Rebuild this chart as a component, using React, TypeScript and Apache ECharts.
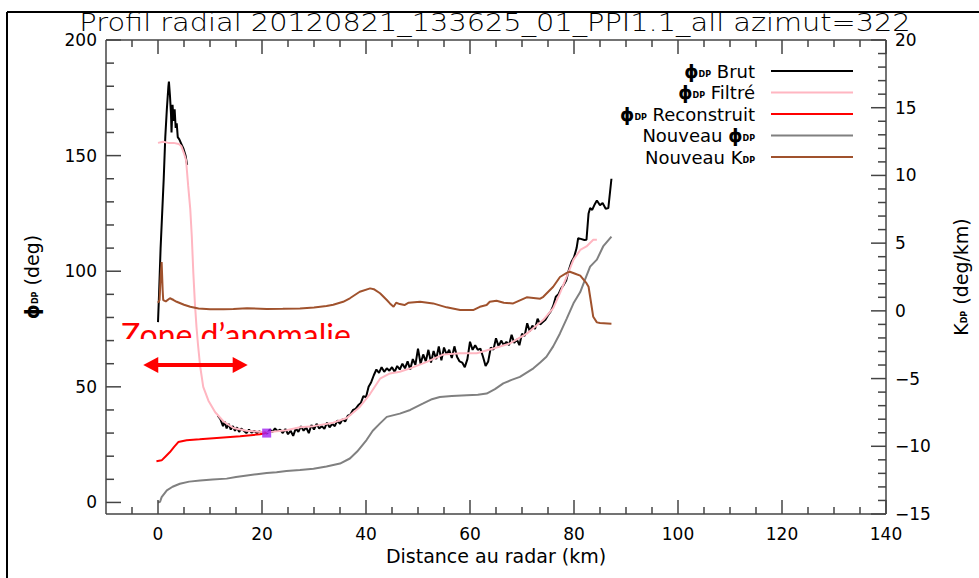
import { useEffect, useRef } from 'react';
import * as echarts from 'echarts';

// ---------- texts ----------
const TITLE = 'Profil radial 20120821_133625_01_PPI1.1_all azimut=322';
const X_NAME = 'Distance au radar (km)';
const LEFT_NAME = '{p|ϕ}{s|DP} (deg)';
const RIGHT_NAME = '{k|K}{s|DP} (deg/km)';
const ANNOTATION = 'Zone d’anomalie';

// ---------- axis ranges / ticks ----------
const X_RANGE = [-10, 140];
const PHI_RANGE = [-5, 200];
const KDP_RANGE = [-15, 20];
const X_LABEL_STEP = 20;
const PHI_LABEL_STEP = 50;
const KDP_LABEL_STEP = 5;
const X_MAJOR = [0, 20, 40, 60, 80, 100, 120, 140];
const X_MINOR = [-5, 5, 10, 15, 25, 30, 35, 45, 50, 55, 65, 70, 75, 85, 90, 95, 105, 110, 115, 125, 130, 135];
const PHI_MAJOR = [0, 50, 100, 150, 200];
const PHI_MINOR = [10, 20, 30, 40, 60, 70, 80, 90, 110, 120, 130, 140, 160, 170, 180, 190];
const KDP_MAJOR = [-15, -10, -5, 0, 5, 10, 15, 20];
const KDP_MINOR = [-14, -13, -12, -11, -9, -8, -7, -6, -4, -3, -2, -1, 1, 2, 3, 4, 6, 7, 8, 9, 11, 12, 13, 14, 16, 17, 18, 19];

// ---------- legend ----------
const SERIES_NAMES = ['ϕDP Brut', 'ϕDP Filtré', 'ϕDP Reconstruit', 'Nouveau ϕDP', 'Nouveau KDP'];
const LEGEND_LABELS = [
  '{p|ϕ}{s|DP}{t| Brut}{g| }',
  '{p|ϕ}{s|DP}{t| Filtré}{g| }',
  '{p|ϕ}{s|DP}{t| Reconstruit}{g| }',
  '{t|Nouveau }{p|ϕ}{s|DP}{g| }',
  '{t|Nouveau K}{s|DP}{g| }',
];

// ---------- data [km, value] ----------
const brutData: (number | string)[][] = [
  [0, 78], [0.2, 90], [0.5, 110], [0.8, 125], [1.1, 140], [1.4, 158], [1.7, 170], [2.0, 180], [2.1, 182],
  [2.3, 176], [2.5, 168], [2.6, 160], [2.8, 172], [3.0, 165], [3.2, 170], [3.4, 162], [3.6, 164], [3.8, 158],
  [4.1, 157], [4.5, 155], [4.9, 153], [5.3, 150], [5.6, 146],
  [8, '-'],
  [11.5, 37.5], [12, 36], [12.5, 33], [12.8, 35], [13.2, 32], [13.6, 34], [14, 31.5], [14.4, 33], [14.8, 31],
  [15.2, 32.5], [15.6, 30.5], [16, 32], [16.5, 31], [17, 30], [17.5, 31.5], [18, 30.2], [18.5, 31], [19, 30],
  [19.5, 30.8], [20, 30], [20.5, 30.4], [21, 29.8], [21.5, 31.5], [22, 30.5], [22.5, 32], [23, 30.8], [23.5, 31.5],
  [24, 30], [24.5, 31.8], [25, 29.5], [25.5, 31], [26, 28.8], [26.5, 32], [27, 30.5], [27.5, 33], [28, 31],
  [28.5, 32.5], [29, 30], [29.5, 33.5], [30, 31.5], [30.5, 34], [31, 32], [31.5, 33], [32, 31.8], [32.5, 34.5],
  [33, 32.5], [33.5, 34], [34, 33], [34.5, 35.5], [35, 34], [35.5, 36], [36, 35], [36.5, 37.5], [37, 38],
  [37.5, 40], [38, 40.5], [38.5, 42], [39, 43], [39.5, 46], [40, 45.5], [40.5, 50], [41, 52], [41.5, 55],
  [42, 57.5], [42.5, 56], [43, 58.5], [43.5, 56.5], [44, 58], [44.5, 57], [45, 58.5], [45.5, 56.5], [46, 59],
  [46.5, 57.5], [47, 60], [47.5, 58], [48, 61], [48.5, 57.5], [49, 62], [49.5, 59.5], [50, 66.5], [50.5, 60],
  [51, 64], [51.5, 61], [52, 66], [52.5, 60.5], [53, 65.5], [53.5, 62], [54, 67.5], [54.5, 61.5], [55, 67],
  [55.5, 64], [56, 66], [56.5, 62.5], [57, 67.5], [57.5, 63], [58, 61], [58.5, 60.5], [59, 58.5], [59.5, 62],
  [60, 69.5], [60.5, 66], [61, 68], [61.5, 66], [62, 66.5], [62.5, 63], [63, 59], [63.5, 61], [64, 67],
  [64.5, 66], [65, 71], [65.5, 67.5], [66, 70], [66.5, 68], [67, 69.5], [67.5, 68], [68, 72.5], [68.5, 69],
  [69, 70.5], [69.5, 68], [70, 73], [70.5, 72], [71, 77.5], [71.5, 74], [72, 76.5], [72.5, 75], [73, 79.5],
  [73.5, 77], [74, 78], [74.5, 79], [75, 81], [75.5, 82.5], [76, 85], [76.5, 89], [77, 90], [77.5, 92.5],
  [78, 94], [78.5, 96], [79, 100.5], [79.5, 104], [80, 106], [80.5, 110], [80.8, 114.3], [81.3, 114],
  [82, 113.5], [82.4, 113.6], [82.8, 125], [83.1, 127.3], [83.5, 126.5], [84, 129], [84.4, 130.6], [85, 128.5],
  [85.5, 129.5], [86.1, 127], [86.6, 127.3], [87.2, 140],
];

const filtreData: number[][] = [
  [0, 155.5], [1, 156], [2, 155.5], [3, 155.5], [4, 155], [4.5, 154], [5, 151], [5.4, 148], [5.8, 137],
  [6.2, 127], [6.5, 115], [6.8, 99], [7.1, 86], [7.4, 76], [7.7, 68], [8.1, 59], [8.7, 50], [9.7, 44],
  [11, 39], [12.6, 35], [14.5, 32.2], [17, 31], [20.9, 30.3], [24.7, 31.2], [27.3, 32.5], [29.9, 33],
  [33.7, 34.5], [36.3, 36.5], [38.8, 41.3], [40.8, 47], [42.7, 53.5], [44.6, 55.8], [46.5, 56.5], [48.5, 58],
  [51.7, 60.8], [54.9, 64], [58.1, 64.5], [61.3, 64.5], [64.5, 66.6], [67.7, 68.8], [70.9, 73], [74.1, 79],
  [76, 84], [77.3, 90.5], [78.6, 97.7], [79.9, 105], [81.2, 109.2], [82.4, 110.7], [83.7, 113.6], [84.4, 113.6],
];

const reconstruitData: number[][] = [
  [-0.3, 17.8], [0.7, 18.2], [1.5, 20], [2.3, 21.8], [3.1, 24], [3.9, 26.1], [5.5, 26.9], [8, 27.3],
  [11.3, 27.9], [15.8, 28.6], [19.6, 29.5], [20.9, 30],
];

const nouveauPhiData: number[][] = [
  [0, 0], [0.4, 0.3], [0.7, 2.3], [1.7, 5.2], [2.8, 6.8], [4.2, 8.1], [6, 9], [8.1, 9.5], [10.5, 9.9],
  [13.2, 10.3], [15, 11], [17.1, 11.7], [19, 12.2], [20.9, 12.7], [22.8, 13.1], [24.7, 13.6], [27.3, 14],
  [29.9, 14.6], [32.4, 15.5], [35, 16.8], [36.9, 19], [38.3, 22], [40.1, 27], [41.3, 31], [42.7, 34.2],
  [44, 37], [46.5, 38.4], [48.5, 40], [51, 42.8], [52.5, 44.5], [54.2, 45.6], [56.5, 46], [59.4, 46.4],
  [61.5, 46.6], [63.2, 47.1], [64.8, 49], [66.4, 51.5], [68, 53], [69.6, 54.3], [72.2, 58], [73.5, 60.5],
  [74.7, 63], [76, 67.5], [77.3, 73.1], [78.6, 79.5], [79.9, 86.1], [81.2, 91], [82.4, 98], [83.1, 102],
  [84.4, 105], [85.6, 110.7], [87.2, 115],
];

const kdpData: number[][] = [
  [0, 0.6], [0.3, 0.8], [0.5, 2.5], [0.7, 3.6], [0.9, 1.5], [1, 0.8], [1.5, 0.7], [2.3, 0.93], [3, 0.8],
  [3.6, 0.67], [5, 0.45], [6.2, 0.3], [7.8, 0.18], [10, 0.12], [12.6, 0.11], [14.5, 0.13], [17.1, 0.2],
  [20.9, 0.13], [24, 0.15], [27.3, 0.18], [30, 0.25], [32.4, 0.36], [33.7, 0.45], [35.6, 0.67], [36.9, 0.93],
  [38.8, 1.41], [40.8, 1.66], [41.5, 1.6], [42.7, 1.3], [44, 0.8], [44.6, 0.55], [45.3, 0.3], [45.8, 0.6],
  [46.5, 0.5], [47.4, 0.43], [48.2, 0.6], [50.4, 0.67], [52.9, 0.55], [55.5, 0.26], [58.1, 0.06], [60.6, 0.06],
  [61.9, 0.3], [63.2, 0.43], [63.8, 0.67], [65.1, 0.75], [66.5, 0.6], [68.3, 0.55], [70.9, 1], [73.5, 0.9],
  [74.1, 1.04], [76, 1.78], [77.3, 2.5], [78.6, 2.8], [79.2, 2.89], [80.5, 2.7], [81.2, 2.6], [82.4, 2.04],
  [82.8, 1.78], [83.2, 0.8], [83.7, -0.44], [84.4, -0.85], [85, -0.9], [87.2, -0.95],
];

const junctionPoint: number[][] = [[20.9, 30]];
const anomalyZone: number[][] = [[-1.4, 59.4], [15.8, 59.4]];

const FONT = 'DejaVu Sans';
const AXIS_COLOR = '#444';

function yAxisCfg(position: string, range: number[], step: number, hideMin: boolean, name: string, rich: any) {
  return {
    type: 'value',
    position,
    min: range[0],
    max: range[1],
    minInterval: step,
    maxInterval: step,
    axisLine: { show: false, onZero: false },
    axisTick: { show: false },
    axisLabel: {
      show: true, showMinLabel: !hideMin, margin: 9, fontFamily: FONT, fontSize: 17, color: '#000',
      formatter: (v: number) => String(v).replace('-', '−'),
    },
    splitLine: { show: false },
    name,
    nameLocation: 'middle',
    nameRotate: 90,
    nameGap: 65,
    nameTextStyle: { fontFamily: FONT, fontSize: 19, color: '#000', rich },
  };
}

export default function App() {
  const ref = useRef<HTMLDivElement>(null);

  useEffect(() => {
    if (!ref.current) return;
    const chart = echarts.init(ref.current, null, { renderer: 'svg' });

    const nameRich = {
      p: { fontFamily: FONT, fontSize: 19, fontWeight: 'bold', color: '#000' },
      k: { fontFamily: FONT, fontSize: 19, color: '#000' },
      s: { fontFamily: FONT, fontSize: 8, fontWeight: 'bold', color: '#000', verticalAlign: 'bottom', padding: [0, 0, 2, 0] },
    };

    const legendRich = {
      p: { fontFamily: FONT, fontSize: 18, fontWeight: 'bold', color: '#000', lineHeight: 14, verticalAlign: 'middle' },
      s: { fontFamily: FONT, fontSize: 8, fontWeight: 'bold', color: '#000', lineHeight: 8, verticalAlign: 'bottom' },
      t: { fontFamily: FONT, fontSize: 18, color: '#000', lineHeight: 14, verticalAlign: 'middle' },
      g: { width: 11, lineHeight: 14 },
    };

    const lineSeries = (name: string, data: any[], color: string, yAxisIndex: number) => ({
      name,
      type: 'line',
      xAxisIndex: 0,
      yAxisIndex,
      data,
      symbol: 'none',
      showSymbol: false,
      connectNulls: false,
      lineStyle: { color, width: 2 },
      itemStyle: { color },
      z: 3,
    });

    const option: any = {
      animation: false,
      backgroundColor: '#fff',
      textStyle: { fontFamily: FONT },
      grid: { left: 106, right: 93, top: 40, bottom: 64 },
      legend: {
        data: SERIES_NAMES,
        orient: 'vertical',
        align: 'right',
        right: 121,
        top: 57,
        icon: 'rect',
        itemWidth: 82,
        itemHeight: 2,
        itemGap: 3.5,
        selectedMode: false,
        formatter: (name: string) => LEGEND_LABELS[SERIES_NAMES.indexOf(name)],
        textStyle: { fontFamily: FONT, fontSize: 18, color: '#000', rich: legendRich },
      },
      xAxis: [
        {
          type: 'value',
          position: 'bottom',
          min: X_RANGE[0],
          max: X_RANGE[1],
          minInterval: X_LABEL_STEP,
          maxInterval: X_LABEL_STEP,
          axisLine: { show: false, onZero: false },
          axisTick: { show: false },
          axisLabel: { show: true, showMinLabel: false, margin: 11, fontFamily: FONT, fontSize: 17, color: '#000' },
          splitLine: { show: false },
          name: X_NAME,
          nameLocation: 'middle',
          nameGap: 30,
          nameTextStyle: { fontFamily: FONT, fontSize: 19, color: '#000' },
        },
      ],
      yAxis: [
        yAxisCfg('left', PHI_RANGE, PHI_LABEL_STEP, true, LEFT_NAME, nameRich),
        yAxisCfg('right', KDP_RANGE, KDP_LABEL_STEP, false, RIGHT_NAME, nameRich),
      ],
      series: [
        lineSeries(SERIES_NAMES[0], brutData, '#000000', 0),
        lineSeries(SERIES_NAMES[1], filtreData, '#ffb6c1', 0),
        {
          ...lineSeries(SERIES_NAMES[2], reconstruitData, '#ff0000', 0),
          markLine: {
            silent: true,
            symbol: ['triangle', 'triangle'],
            symbolSize: [16, 15],
            label: { show: false },
            lineStyle: { color: '#ff0000', width: 4, type: 'solid' },
            data: [[{ coord: anomalyZone[0] }, { coord: anomalyZone[1] }]],
          },
        },
        lineSeries(SERIES_NAMES[3], nouveauPhiData, '#808080', 0),
        lineSeries(SERIES_NAMES[4], kdpData, '#a0522d', 1),
        {
          type: 'scatter',
          xAxisIndex: 0,
          yAxisIndex: 0,
          data: junctionPoint,
          symbol: 'rect',
          symbolSize: 9,
          itemStyle: { color: '#a020f0' },
          z: 5,
        },
      ],
    };

    chart.setOption(option);

    // frame and inward ticks, placed through the chart's own axis scales
    const px = (v: number) => chart.convertToPixel({ xAxisIndex: 0 }, v) as unknown as number;
    const pyL = (v: number) => chart.convertToPixel({ yAxisIndex: 0 }, v) as unknown as number;
    const pyR = (v: number) => chart.convertToPixel({ yAxisIndex: 1 }, v) as unknown as number;
    const left = px(X_RANGE[0]);
    const right = px(X_RANGE[1]);
    const top = pyL(PHI_RANGE[1]);
    const bottom = pyL(PHI_RANGE[0]);
    const st = { stroke: AXIS_COLOR, lineWidth: 1.5 };
    const ln = (x1: number, y1: number, x2: number, y2: number) => ({
      type: 'line', z: 10, shape: { x1, y1, x2, y2 }, style: st,
    });
    const ticks: any[] = [];
    X_MAJOR.forEach((v) => { const x = px(v); ticks.push(ln(x, bottom, x, bottom - 14), ln(x, top, x, top + 14)); });
    X_MINOR.forEach((v) => { const x = px(v); ticks.push(ln(x, bottom, x, bottom - 7), ln(x, top, x, top + 7)); });
    PHI_MAJOR.forEach((v) => { const y = pyL(v); ticks.push(ln(left, y, left + 15, y)); });
    PHI_MINOR.forEach((v) => { const y = pyL(v); ticks.push(ln(left, y, left + 8, y)); });
    KDP_MAJOR.forEach((v) => { const y = pyR(v); ticks.push(ln(right, y, right - 15, y)); });
    KDP_MINOR.forEach((v) => { const y = pyR(v); ticks.push(ln(right, y, right - 8, y)); });

    chart.setOption({
      graphic: [
        { type: 'line', shape: { x1: 7, y1: 12, x2: 979, y2: 12 }, style: { stroke: '#000', lineWidth: 2 } },
        { type: 'line', shape: { x1: 7, y1: 12, x2: 7, y2: 578 }, style: { stroke: '#000', lineWidth: 2 } },
        {
          type: 'text', x: 495, y: 22, scaleX: 1.2,
          style: { text: TITLE, fill: '#000', font: `200 24px "${FONT}"`, align: 'center', verticalAlign: 'middle' },
        },
        {
          type: 'text', x: 121, y: 334, z: 0,
          style: { text: ANNOTATION, fill: '#ff0000', font: '32px Lato', align: 'left', verticalAlign: 'middle' },
        },
        { type: 'rect', z: 1, shape: { x: 118, y: 339, width: 250, height: 14 }, style: { fill: '#fff' } },
        ln(left, top, right, top),
        ln(right, top, right, bottom),
        ln(left, bottom, right, bottom),
        ln(left, top, left, bottom),
        ...ticks,
      ],
    });

    return () => chart.dispose();
  }, []);

  return (
    <div
      ref={ref}
      style={{ position: 'fixed', left: 0, top: 0, width: 979, height: 578, background: '#fff' }}
    />
  );
}
